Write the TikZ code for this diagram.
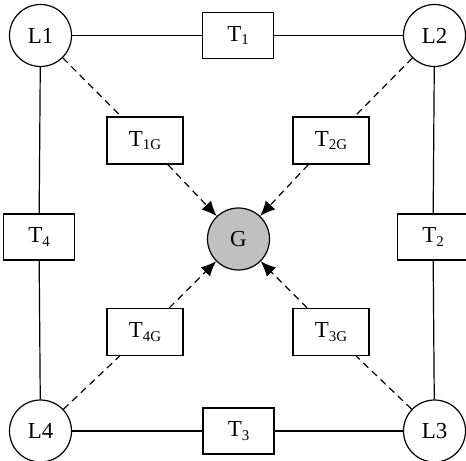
\documentclass[tikz,border=0pt]{standalone}
\usepackage{fontspec}
\setmainfont{Liberation Serif}
\usetikzlibrary{arrows.meta}
\definecolor{hubgray}{RGB}{192,192,192}
\newcommand{\lsub}[1]{\raisebox{-3.5bp}{\fontsize{15}{15}\selectfont #1}}

\begin{document}
\begin{tikzpicture}[x=1bp, y=-1bp, line width=1.2bp,
  loc/.style={draw, circle, minimum size=62bp, inner sep=0pt, font=\fontsize{23}{25}\selectfont},
  hub/.style={loc, fill=hubgray},
  link/.style={draw, rectangle, minimum width=71bp, minimum height=46bp, inner sep=0pt, font=\fontsize{23}{25}\selectfont},
  glink/.style={link, minimum width=76bp, minimum height=47bp},
  feed/.style={dash pattern=on 7bp off 5bp}]
  \useasboundingbox (0,0) rectangle (466,461);
  \node [loc] (L1) at (40.5,35.5) {L1};
  \node [loc] (L2) at (434.5,35.5) {L2};
  \node [loc] (L3) at (434.5,431) {L3};
  \node [loc] (L4) at (40.5,431) {L4};
  \node [hub] (G) at (238.5,239) {G};
  \node [link] (T1) at (238,35.5) {T\lsub{1}};
  \node [link] (T2) at (433,237) {T\lsub{2}};
  \node [link] (T3) at (238.5,431) {T\lsub{3}};
  \node [link] (T4) at (39,237) {T\lsub{4}};
  \node [glink] (T1G) at (145,140.5) {T\lsub{1G}};
  \node [glink] (T2G) at (331,140.5) {T\lsub{2G}};
  \node [glink] (T3G) at (331,332) {T\lsub{3G}};
  \node [glink] (T4G) at (145,332) {T\lsub{4G}};
  \draw (L1) -- (T1);
  \draw (T1) -- (L2);
  \draw (L2) -- (T2);
  \draw (T2) -- (L3);
  \draw (L3) -- (T3);
  \draw (T3) -- (L4);
  \draw (L4) -- (T4);
  \draw (T4) -- (L1);
  \draw [feed] (L1) -- (T1G);
  \draw [feed] (L2) -- (T2G);
  \draw [feed] (L3) -- (T3G);
  \draw [feed] (L4) -- (T4G);
  \draw [feed, -{Latex[length=15bp, width=13bp]}] (T1G) -- (G);
  \draw [feed, -{Latex[length=15bp, width=13bp]}] (T2G) -- (G);
  \draw [feed, -{Latex[length=15bp, width=13bp]}] (T3G) -- (G);
  \draw [feed, -{Latex[length=15bp, width=13bp]}] (T4G) -- (G);
\end{tikzpicture}
\end{document}
